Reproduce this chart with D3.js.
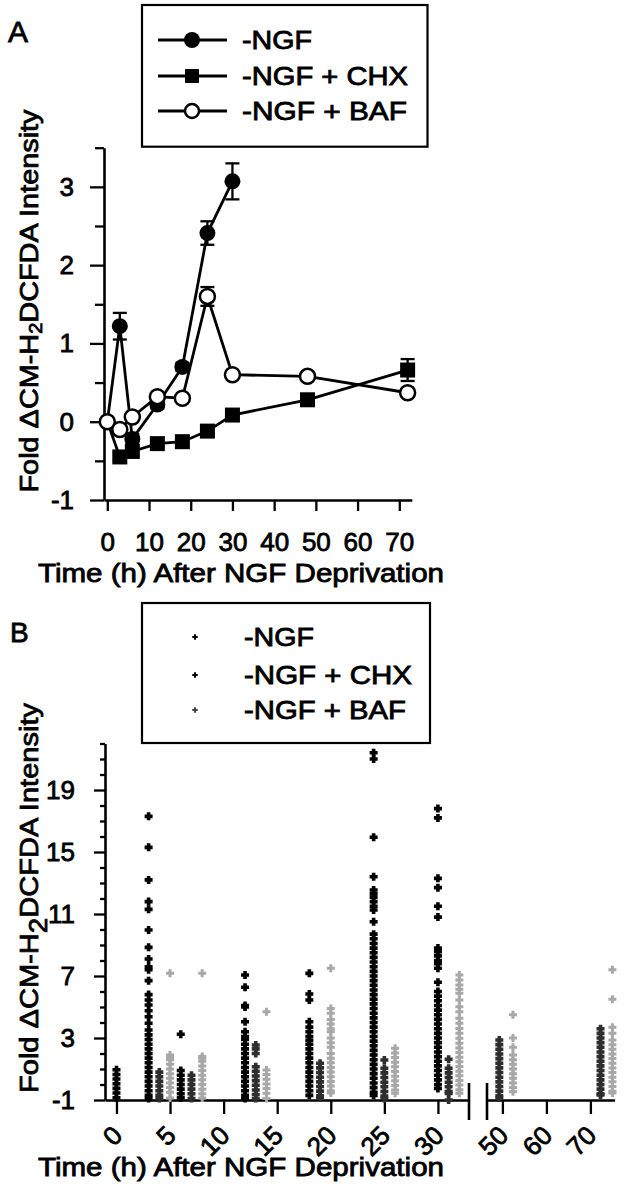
<!DOCTYPE html>
<html><head><meta charset="utf-8">
<script src="https://cdn.jsdelivr.net/npm/d3@7"></script>
<style>body{margin:0;background:#fff}svg{display:block}</style>
</head><body><svg id="c" width="626" height="1199"></svg>
<script>
// ---------- Panel A data ----------
const seriesNames = ["-NGF", "-NGF + CHX", "-NGF + BAF"];
const ngfTimes = [0, 3, 6, 12, 18, 24, 30];
const ngfMean = [0, 1.22, -0.22, 0.22, 0.70, 2.41, 3.07];
const ngfErr  = [0, 0.17, 0.06, 0.05, 0.05, 0.15, 0.23];
const allTimes = [0, 3, 6, 12, 18, 24, 30, 48, 72];
const chxMean = [0, -0.45, -0.38, -0.28, -0.255, -0.12, 0.085, 0.28, 0.66];
const chxErr  = [0, 0.05, 0.05, 0.04, 0.04, 0.04, 0.04, 0.04, 0.14];
const bafMean = [0, -0.10, 0.06, 0.32, 0.30, 1.60, 0.60, 0.58, 0.37];
const bafErr  = [0, 0.05, 0.04, 0.04, 0.04, 0.12, 0.04, 0.04, 0.05];
const yTicksA = [-1, 0, 1, 2, 3];
const yMinorA = [-0.5, 0.5, 1.5, 2.5, 3.5];
const xTicksA = [0, 10, 20, 30, 40, 50, 60, 70];

// ---------- Panel B data (single-cell values per column) ----------
const bNgfTimes = [0, 3, 6, 12, 18, 24, 30];
const bNgfValues = [
  [-0.85,-0.55,-0.25,0.05,0.35,0.65,0.95],
  [17.3,15.3,13.2,11.8,11.3,9.97,8.85,8.1,7.6,7.4,6.7,5.8,5.45,5.13,4.76,4.37,3.95,3.52,3.2,2.9,2.6,2.3,2.0,1.7,1.4,1.1,0.8,0.5,0.2,-0.1,-0.4,-0.7,-0.9],
  [3.24,0.9,0.6,0.3,0,-0.3,-0.6,-0.85],
  [7.06,6.27,5.1,5.0,4.05,3.4,3.1,2.9,2.6,2.3,2.0,1.7,1.4,1.1,0.8,0.5,0.2,-0.1,-0.4,-0.7,-0.9],
  [7.17,5.84,5.45,4.05,3.7,3.4,3.1,2.85,2.6,2.3,2.0,1.7,1.4,1.1,0.8,0.5,0.2,-0.1,-0.4,-0.7],
  [21.4,21.0,15.95,13.4,12.55,12.3,12.08,11.8,11.5,11.26,10.5,9.7,9.4,9.1,8.8,8.5,8.2,7.9,7.6,7.3,7.0,6.7,6.4,6.1,5.8,5.5,5.2,4.9,4.6,4.3,4.0,3.7,3.4,3.1,2.8,2.5,2.2,1.9,1.6,1.3,1.0,0.7,0.4,0.1,-0.2,-0.5,-0.7],
  [17.8,17.2,13.3,12.7,11.5,10.8,8.8,8.57,8.3,8.0,7.8,7.5,6.6,6.0,5.7,5.4,5.1,4.8,4.5,4.2,3.9,3.6,3.3,3.0,2.7,2.4,2.1,1.8,1.5,1.2,0.9,0.6,0.3,0.0,-0.25]
];
const bChxTimes = [4, 7, 13, 19, 25, 31, 49.3, 72.3];
const bChxValues = [
  [0.8,0.5,0.2,-0.1,-0.4,-0.7,-0.9],
  [0.6,0.3,0,-0.3,-0.6,-0.9],
  [2.55,2.3,2.0,1.15,0.85,0.55,0.25,-0.05,-0.35,-0.65,-0.9],
  [1.37,1.07,0.77,0.47,0.17,-0.13,-0.43,-0.73,-0.87],
  [1.58,1.05,0.75,0.45,0.15,-0.15,-0.45,-0.75,-0.9],
  [1.63,1.05,0.75,0.45,0.15,-0.15,-0.45,-0.57,-1.0],
  [2.87,2.57,2.27,1.97,1.67,1.37,1.07,0.77,0.47,0.17,-0.13,-0.43,-0.73,-0.87],
  [3.6,3.3,3.0,2.7,2.4,2.1,1.8,1.5,1.2,0.9,0.6,0.3,0,-0.3,-0.6,-0.68]
];
const bBafTimes = [5, 8, 14, 20, 26, 32, 52.4, 75];
const bBafValues = [
  [7.17,1.9,1.75,1.6,1.3,1.0,0.7,0.4,0.1,-0.2,-0.5,-0.87],
  [7.17,1.8,1.7,1.5,1.2,0.9,0.6,0.3,0,-0.3,-0.6,-0.87],
  [4.7,0.94,0.64,0.34,0.04,-0.26,-0.56,-0.9],
  [7.5,4.9,4.6,4.2,3.9,3.6,3.4,3.0,2.7,2.4,2.0,1.7,1.4,1.1,0.8,0.5,0.2,-0.1,-0.4,-0.55],
  [2.34,2.04,1.74,1.44,1.14,0.84,0.54,0.24,-0.06,-0.36,-0.57],
  [7.06,6.74,6.42,6.14,5.88,5.45,5.02,4.70,4.27,3.95,3.62,3.30,2.98,2.66,2.36,2.06,1.76,1.46,1.16,0.86,0.56,0.26,-0.04,-0.34,-0.57],
  [4.5,3.0,2.4,1.9,1.6,1.3,1.0,0.7,0.4,0.1,-0.2,-0.46],
  [7.4,5.5,3.7,3.3,2.87,2.57,2.27,1.97,1.67,1.37,1.07,0.77,0.47,0.17,-0.13,-0.43,-0.55]
];
const yTicksB = [-1, 3, 7, 11, 15, 19];
const yMinorB = d3.range(-1, 23).filter(v => !yTicksB.includes(v));
const xTicksB1 = [0, 5, 10, 15, 20, 25, 30];
const xTicksB2 = [50, 60, 70];
const bColors = ["#000000", "#2e2e2e", "#a8a8a8"];

// ---------- helpers ----------
const FONT = "'Liberation Sans', Arial, Helvetica, sans-serif";
const TS = 0.8; // text stroke (scan-like heavy text)
const svg = d3.select("#c");
const fmt = d => String(d);
function styleAxis(g, fs) {
  g.attr("font-family", FONT).attr("font-size", fs);
  g.selectAll("path.domain").attr("stroke", "#000").attr("stroke-width", 2.6);
  g.selectAll(".tick line").attr("stroke", "#000").attr("stroke-width", 2.3);
  g.selectAll(".tick text").attr("fill", "#000").attr("stroke", "#000").attr("stroke-width", TS);
}
function txt(parent, x, y, s, fs, len) {
  const t = parent.append("text").attr("x", x).attr("y", y).attr("font-family", FONT)
    .attr("font-size", fs).attr("fill", "#000").attr("stroke", "#000").attr("stroke-width", TS).text(s);
  if (len) t.attr("textLength", len).attr("lengthAdjust", "spacingAndGlyphs");
  return t;
}
function yTitle(parent, cx, cy, subFs, subDy, len) {
  const t = parent.append("text").attr("transform", `translate(${cx},${cy}) rotate(-90)`)
    .attr("text-anchor", "middle").attr("font-family", FONT).attr("font-size", 26)
    .attr("fill", "#000").attr("stroke", "#000").attr("stroke-width", TS)
    .attr("textLength", len).attr("lengthAdjust", "spacingAndGlyphs");
  t.append("tspan").text("Fold \u0394CM-H");
  t.append("tspan").attr("font-size", subFs).attr("dy", subDy).text("2");
  t.append("tspan").attr("dy", -subDy).text("DCFDA Intensity");
}
// plus-shaped marker with given arm length and thickness
const plus = (L, w) => ({draw(ctx) {
  const a = L / 2, b = w / 2;
  ctx.moveTo(-a, -b); ctx.lineTo(-b, -b); ctx.lineTo(-b, -a); ctx.lineTo(b, -a);
  ctx.lineTo(b, -b); ctx.lineTo(a, -b); ctx.lineTo(a, b); ctx.lineTo(b, b);
  ctx.lineTo(b, a); ctx.lineTo(-b, a); ctx.lineTo(-b, b); ctx.lineTo(-a, b); ctx.closePath();
}});

// ================= Panel A =================
const xA = d3.scaleLinear().domain([-0.79, 73]).range([104, 411.8]);
const yA = d3.scaleLinear().domain([-1, 3.5]).range([500, 147.7]);
const gA = svg.append("g");

const axYA = gA.append("g").attr("transform", "translate(104,0)")
  .call(d3.axisLeft(yA).tickValues(yTicksA).tickSize(14).tickSizeOuter(0).tickPadding(16).tickFormat(fmt));
styleAxis(axYA, 26);
const axYAm = gA.append("g").attr("transform", "translate(104,0)")
  .call(d3.axisLeft(yA).tickValues(yMinorA).tickSize(9).tickSizeOuter(0).tickFormat(""));
styleAxis(axYAm, 26);
axYAm.select("path.domain").remove();
const axXA = gA.append("g").attr("transform", "translate(0,500)")
  .call(d3.axisBottom(xA).tickValues(xTicksA).tickSize(11).tickSizeOuter(0).tickPadding(22).tickFormat(fmt));
styleAxis(axXA, 26);

const line = d3.line().x(d => xA(d.t)).y(d => yA(d.v));
const ngfPts = ngfTimes.map((t, i) => ({t, v: ngfMean[i], e: ngfErr[i]}));
const chxPts = allTimes.map((t, i) => ({t, v: chxMean[i], e: chxErr[i]}));
const bafPts = allTimes.map((t, i) => ({t, v: bafMean[i], e: bafErr[i]}));

function errBars(pts) {
  const g = gA.append("g").attr("stroke", "#000").attr("stroke-width", 2.3);
  pts.filter(d => d.e > 0).forEach(d => {
    const x = xA(d.t);
    g.append("line").attr("x1", x).attr("x2", x).attr("y1", yA(d.v - d.e)).attr("y2", yA(d.v + d.e));
    [d.v - d.e, d.v + d.e].forEach(v => g.append("line").attr("x1", x - 7).attr("x2", x + 7).attr("y1", yA(v)).attr("y2", yA(v)));
  });
}
[ngfPts, chxPts, bafPts].forEach(p => errBars(p));
[ngfPts, chxPts, bafPts].forEach(p =>
  gA.append("path").datum(p).attr("d", line).attr("fill", "none").attr("stroke", "#000").attr("stroke-width", 2.8));

gA.append("g").selectAll("circle").data(ngfPts).join("circle")
  .attr("cx", d => xA(d.t)).attr("cy", d => yA(d.v)).attr("r", 8).attr("fill", "#000");
gA.append("g").selectAll("rect").data(chxPts.filter(d => d.t > 0)).join("rect")
  .attr("x", d => xA(d.t) - 7.5).attr("y", d => yA(d.v) - 7.5).attr("width", 15).attr("height", 15).attr("fill", "#000");
gA.append("g").selectAll("circle").data(bafPts).join("circle")
  .attr("cx", d => xA(d.t)).attr("cy", d => yA(d.v)).attr("r", 7.5).attr("fill", "#fff")
  .attr("stroke", "#000").attr("stroke-width", 2.5);

// legend A
gA.append("rect").attr("x", 142).attr("y", 5).attr("width", 285.5).attr("height", 141.7)
  .attr("fill", "#fff").attr("stroke", "#000").attr("stroke-width", 2.2);
const legYA = [40, 76, 111];
const legLenA = [70, 166, 165];
seriesNames.forEach((s, i) => {
  const y = legYA[i];
  gA.append("line").attr("x1", 158).attr("x2", 227).attr("y1", y).attr("y2", y).attr("stroke", "#000").attr("stroke-width", 2.8);
  if (i === 0) gA.append("circle").attr("cx", 192).attr("cy", y).attr("r", 8).attr("fill", "#000");
  if (i === 1) gA.append("rect").attr("x", 185).attr("y", y - 7).attr("width", 14).attr("height", 14).attr("fill", "#000");
  if (i === 2) gA.append("circle").attr("cx", 192).attr("cy", y).attr("r", 7).attr("fill", "#fff").attr("stroke", "#000").attr("stroke-width", 2.5);
  txt(gA, 242, y + 9, s, 25, legLenA[i]);
});
txt(gA, 8, 42, "A", 30);
txt(gA, 38, 582, "Time (h) After NGF Deprivation", 25, 406);
yTitle(gA, 38, 301, 18, 4, 383);

// ================= Panel B =================
const xB1 = d3.scaleLinear().domain([-1.07, 32.9]).range([105, 469]);
const xB2 = d3.scaleLinear().domain([46.5, 75.5]).range([487, 614.6]);
const xB = t => (t < 40 ? xB1(t) : xB2(t));
const yB = d3.scaleLinear().domain([-1, 22]).range([1100, 743.5]);
const gB = svg.append("g");

const axYB = gB.append("g").attr("transform", "translate(105,0)")
  .call(d3.axisLeft(yB).tickValues(yTicksB).tickSize(11).tickSizeOuter(0).tickPadding(19).tickFormat(fmt));
styleAxis(axYB, 26);
const axYBm = gB.append("g").attr("transform", "translate(105,0)")
  .call(d3.axisLeft(yB).tickValues(yMinorB).tickSize(5).tickSizeOuter(0).tickFormat(""));
styleAxis(axYBm, 26);
axYBm.select("path.domain").remove();

[[xB1, xTicksB1], [xB2, xTicksB2]].forEach(([sc, tv]) => {
  const ax = gB.append("g").attr("transform", "translate(0,1100)")
    .call(d3.axisBottom(sc).tickValues(tv).tickSize(14).tickSizeOuter(0).tickFormat(fmt));
  styleAxis(ax, 26);
  ax.selectAll(".tick text").attr("y", 0).attr("dy", 0).attr("text-anchor", "end")
    .attr("transform", "translate(7,37) rotate(-45)");
});
// axis break marks
[xB1.range()[1], xB2.range()[0]].forEach(x =>
  gB.append("line").attr("x1", x).attr("x2", x).attr("y1", 1083).attr("y2", 1120).attr("stroke", "#000").attr("stroke-width", 2.6));

// scatter columns
const markDark = d3.symbol(plus(8, 3.6));
const markLight = d3.symbol(plus(8, 3.0));
[[bNgfTimes, bNgfValues], [bChxTimes, bChxValues], [bBafTimes, bBafValues]].forEach(([times, vals], si) => {
  const pts = [];
  times.forEach((t, i) => vals[i].forEach(v => pts.push({t, v})));
  gB.append("g").selectAll("path").data(pts).join("path")
    .attr("transform", d => `translate(${xB(d.t)},${yB(d.v)})`)
    .attr("d", si === 2 ? markLight() : markDark()).attr("fill", bColors[si]);
});

// legend B
gB.append("rect").attr("x", 142).attr("y", 603).attr("width", 288).attr("height", 140)
  .attr("fill", "#fff").attr("stroke", "#000").attr("stroke-width", 2.2);
const legYB = [637, 675, 710];
const legLenB = [70, 168, 162];
const legMark = d3.symbol(plus(5.5, 2));
seriesNames.forEach((s, i) => {
  gB.append("path").attr("transform", `translate(195,${legYB[i]})`).attr("d", legMark())
    .attr("fill", i === 2 ? "#444" : "#000");
  txt(gB, 244, legYB[i] + 9, s, 25, legLenB[i]);
});
txt(gB, 10, 642, "B", 28);
txt(gB, 38, 1176, "Time (h) After NGF Deprivation", 25, 406);
yTitle(gB, 38, 898, 25, 9, 390);
</script></body></html>
